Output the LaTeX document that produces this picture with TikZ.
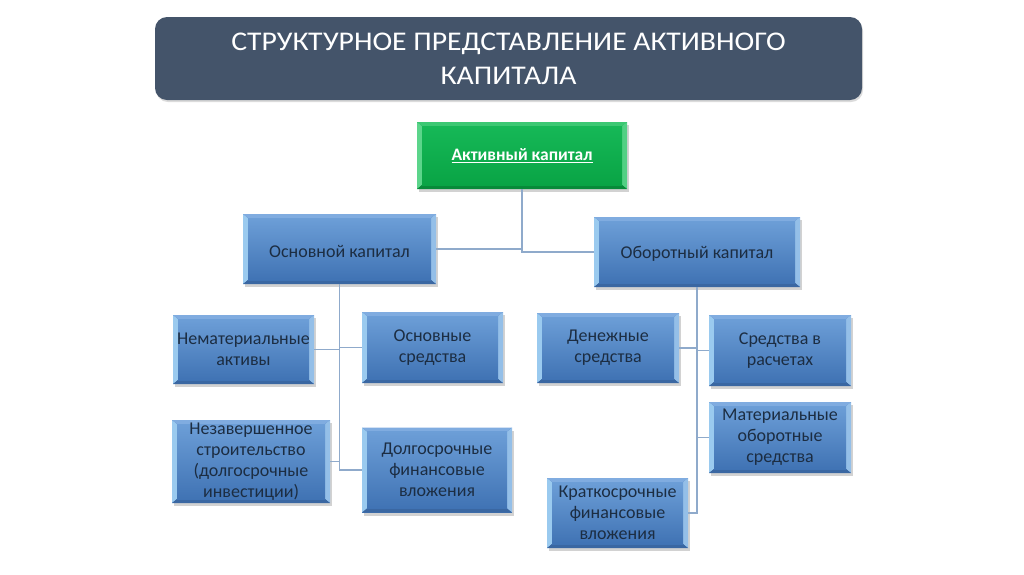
\documentclass[tikz,border=0pt]{standalone}
\usepackage{fontspec}
\setmainfont{Carlito}
\newfontfamily\titlefont[FakeStretch=1.1]{Carlito}
\usetikzlibrary{shadows}
\definecolor{titlebg}{HTML}{44546A}
\definecolor{faceT}{HTML}{6C9ED7}
\definecolor{faceB}{HTML}{4073B4}
\definecolor{bevL}{HTML}{9ACAEF}
\definecolor{bevT}{HTML}{80ACE0}
\definecolor{bevR}{HTML}{94BFE8}
\definecolor{bevB}{HTML}{3A67A2}
\definecolor{gfaceT}{HTML}{16B857}
\definecolor{gfaceB}{HTML}{09A445}
\definecolor{gbevL}{HTML}{5CD58B}
\definecolor{gbevT}{HTML}{3CC873}
\definecolor{gbevR}{HTML}{52D084}
\definecolor{gbevB}{HTML}{078A39}
\definecolor{txt}{HTML}{1C2D42}
\definecolor{conn}{HTML}{8FAACB}
\newcommand\mybevel[6]{%
  \fill[#1] (path picture bounding box.north west) -- ([shift={(5pt,-4pt)}]path picture bounding box.north west) -- ([shift={(5pt,4pt)}]path picture bounding box.south west) -- (path picture bounding box.south west) -- cycle;
  \fill[#3] (path picture bounding box.north east) -- ([shift={(-5pt,-4pt)}]path picture bounding box.north east) -- ([shift={(-5pt,4pt)}]path picture bounding box.south east) -- (path picture bounding box.south east) -- cycle;
  \fill[#2] (path picture bounding box.north west) -- ([shift={(5pt,-4pt)}]path picture bounding box.north west) -- ([shift={(-5pt,-4pt)}]path picture bounding box.north east) -- (path picture bounding box.north east) -- cycle;
  \fill[#4] (path picture bounding box.south west) -- ([shift={(5pt,4pt)}]path picture bounding box.south west) -- ([shift={(-5pt,4pt)}]path picture bounding box.south east) -- (path picture bounding box.south east) -- cycle;
  \shade[top color=#5,bottom color=#6] ([shift={(5pt,-4pt)}]path picture bounding box.north west) rectangle ([shift={(-5pt,4pt)}]path picture bounding box.south east);
}
\tikzset{
  bluebox/.style={rectangle, fill=faceB, inner sep=1pt, align=center, text=txt,
    font=\fontsize{18}{21}\selectfont,
    execute at begin node={\rule{0pt}{16.5pt}},
    drop shadow={shadow xshift=2pt, shadow yshift=-3pt, opacity=.25, fill=black!70},
    path picture={\mybevel{bevL}{bevT}{bevR}{bevB}{faceT}{faceB}}},
  greenbox/.style={rectangle, fill=gfaceB, inner sep=2pt, align=center, text=white,
    font=\fontsize{17.5}{20}\selectfont\bfseries,
    drop shadow={shadow xshift=2pt, shadow yshift=-3pt, opacity=.25, fill=black!70},
    path picture={\mybevel{gbevL}{gbevT}{gbevR}{gbevB}{gfaceT}{gfaceB}}},
  titlebox/.style={rectangle, rounded corners=12pt, fill=titlebg, text=white, align=center,
    font=\titlefont\fontsize{27}{34}\selectfont,
    drop shadow={shadow xshift=1pt, shadow yshift=-2pt, opacity=.2, fill=black!70}},
  link/.style={draw=conn, line width=1.2pt}
}
\begin{document}
\begin{tikzpicture}[x=1pt,y=-1pt]
\useasboundingbox[fill=white] (0,0) rectangle (1024,574);
\node[titlebox, minimum width=707pt, minimum height=83pt] (title) at (508.5,58.5)
  {СТРУКТУРНОЕ ПРЕДСТАВЛЕНИЕ АКТИВНОГО\\КАПИТАЛА};
\node[greenbox, minimum width=210pt, minimum height=67pt] (act) at (522,155.5) {\underline{Активный капитал}};
\node[bluebox, minimum width=193pt, minimum height=70pt] (osn) at (339.5,249) {Основной капитал};
\node[bluebox, minimum width=206pt, minimum height=70pt] (obor) at (697,252) {Оборотный капитал};
\node[bluebox, minimum width=141pt, minimum height=69pt] (nemat) at (243.5,349.5) {Нематериальные\\активы};
\node[bluebox, minimum width=141pt, minimum height=71pt] (osnsr) at (432.5,347.5) {Основные\\средства};
\node[bluebox, minimum width=158pt, minimum height=83pt] (nezav) at (251,461.5) {Незавершенное\\строительство\\(долгосрочные\\инвестиции)};
\node[bluebox, minimum width=150pt, minimum height=85pt] (dolg) at (437,470) {Долгосрочные\\финансовые\\вложения};
\node[bluebox, minimum width=142pt, minimum height=70pt] (den) at (608,348) {Денежные\\средства};
\node[bluebox, minimum width=142pt, minimum height=71pt] (rasch) at (780,350.5) {Средства в\\расчетах};
\node[bluebox, minimum width=142pt, minimum height=71pt] (mat) at (780,437.5) {Материальные\\оборотные\\средства};
\node[bluebox, minimum width=141pt, minimum height=70pt] (krat) at (617.5,513) {Краткосрочные\\финансовые\\вложения};
% connectors
\draw[link] (act.south) |- (obor.west);
\draw[link] (osn.east) -| (act.south);
\draw[link] (osn.south) |- (dolg.west);
\draw[link] (nemat.east) -- (nemat.east -| osn.south);
\draw[link] (osnsr.west) -- (osnsr.west -| osn.south);
\draw[link] (nezav.east) -- (nezav.east -| osn.south);
\draw[link] (obor.south) |- (krat.east);
\draw[link] (den.east) -- (den.east -| obor.south);
\draw[link] (rasch.west) -- (rasch.west -| obor.south);
\draw[link] (mat.west) -- (mat.west -| obor.south);
\end{tikzpicture}
\end{document}
